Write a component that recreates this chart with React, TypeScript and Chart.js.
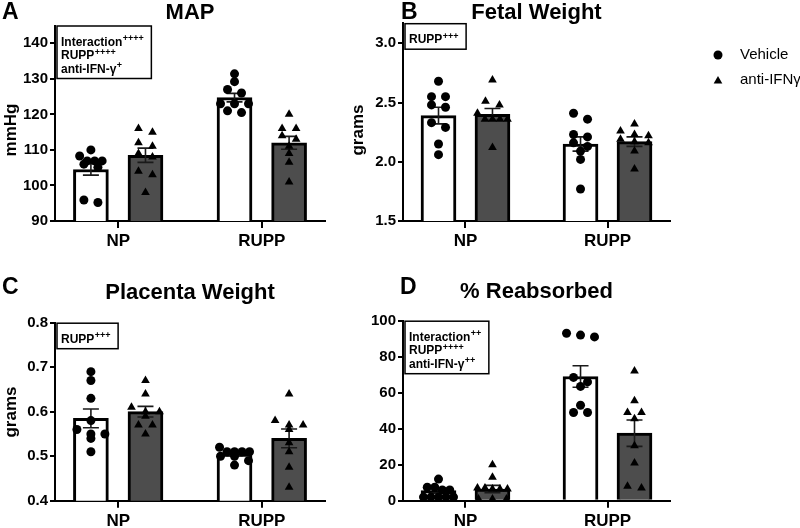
import React, { useEffect, useRef } from 'react';
import { Chart, registerables } from 'chart.js';

Chart.register(...registerables);

const FONT = "'Liberation Sans', Arial, Helvetica, sans-serif";

const categories = ['NP', 'RUPP'];
const seriesNames = ['Vehicle', 'anti-IFNγ'];

// Panel A – MAP (mmHg)
const mapVehicleNP = [110, 108.3, 106.9, 106.9, 106.9, 106.0, 105.1, 95.9, 95.2];
const mapVehicleRUPP = [131.4, 129.2, 127, 126, 123, 123, 123, 121, 120.5];
const mapAntiNP = [116, 115, 112, 111, 109, 108, 104, 103, 98];
const mapAntiRUPP = [120, 116, 116, 114, 113, 111, 109, 106.5, 101];
const mapVehicleMean = [104.5, 124.7];
const mapVehicleSem = [1.6, 1.2];
const mapAntiMean = [108.5, 112.0];
const mapAntiSem = [2.0, 1.8];
const mapTicks = [90, 100, 110, 120, 130, 140];

// Panel B – Fetal Weight (grams)
const fwVehicleNP = [2.68, 2.55, 2.55, 2.48, 2.46, 2.33, 2.29, 2.15, 2.06];
const fwVehicleRUPP = [2.41, 2.36, 2.23, 2.21, 2.16, 2.13, 2.09, 2.02, 1.77];
const fwAntiNP = [2.69, 2.51, 2.48, 2.41, 2.36, 2.36, 2.36, 2.36, 2.12];
const fwAntiRUPP = [2.32, 2.26, 2.23, 2.22, 2.19, 2.17, 2.16, 2.09, 1.94];
const fwVehicleMean = [2.39, 2.15];
const fwVehicleSem = [0.07, 0.06];
const fwAntiMean = [2.40, 2.17];
const fwAntiSem = [0.05, 0.04];
const fwTicks = [1.5, 2.0, 2.5, 3.0];

// Panel C – Placenta Weight (grams)
const pwVehicleNP = [0.69, 0.67, 0.63, 0.58, 0.56, 0.55, 0.55, 0.54, 0.51];
const pwVehicleRUPP = [0.52, 0.51, 0.51, 0.51, 0.51, 0.50, 0.50, 0.49, 0.48];
const pwAntiNP = [0.67, 0.64, 0.61, 0.60, 0.60, 0.59, 0.57, 0.57, 0.55];
const pwAntiRUPP = [0.64, 0.58, 0.57, 0.57, 0.56, 0.53, 0.51, 0.475, 0.43];
const pwVehicleMean = [0.585, 0.505];
const pwVehicleSem = [0.021, 0.004];
const pwAntiMean = [0.600, 0.540];
const pwAntiSem = [0.012, 0.021];
const pwTicks = [0.4, 0.5, 0.6, 0.7, 0.8];

// Panel D – % Reabsorbed
const reVehicleNP = [12, 7.5, 7.5, 6, 6, 2, 2, 2, 2, 2];
const reVehicleRUPP = [93, 92, 91, 68.5, 66, 63.5, 53, 49, 49];
const reAntiNP = [20, 13, 7, 7, 6.5, 6.5, 6.5, 1, 1, 1];
const reAntiRUPP = [72, 55.5, 49, 49, 45.5, 30.5, 21, 8, 7];
const reVehicleMean = [5.6, 69.0];
const reVehicleSem = [1.4, 6.0];
const reAntiMean = [6.5, 37.5];
const reAntiSem = [2.0, 7.3];
const reTicks = [0, 20, 40, 60, 80, 100];

type Panel = {
  letter: string;
  title: string;
  yTitle: string;
  min: number;
  max: number;
  ticks: number[];
  decimals: number;
  veh: number[][];
  anti: number[][];
  vehMean: number[];
  vehSem: number[];
  antiMean: number[];
  antiSem: number[];
  notes: [string, string][];
  legend: boolean;
  canvas: { x: number; y: number; w: number; h: number };
  area: { left: number; right: number; top: number; bottom: number };
  letterPos: [number, number];
  titleY: number;
  yTitlePos: [number, number];
};

const PANELS: Panel[] = [
  {
    letter: 'A', title: 'MAP', yTitle: 'mmHg', min: 90, max: 145, ticks: mapTicks, decimals: 0,
    veh: [mapVehicleNP, mapVehicleRUPP], anti: [mapAntiNP, mapAntiRUPP],
    vehMean: mapVehicleMean, vehSem: mapVehicleSem, antiMean: mapAntiMean, antiSem: mapAntiSem,
    notes: [['Interaction', '++++'], ['RUPP', '++++'], ['anti-IFN-γ', '+']],
    legend: false,
    canvas: { x: 0, y: 0, w: 340, h: 265 },
    area: { left: 55, right: 325, top: 25.5, bottom: 221 },
    letterPos: [2, 19], titleY: 18.5, yTitlePos: [11, 130],
  },
  {
    letter: 'B', title: 'Fetal Weight', yTitle: 'grams', min: 1.5, max: 3.17, ticks: fwTicks, decimals: 1,
    veh: [fwVehicleNP, fwVehicleRUPP], anti: [fwAntiNP, fwAntiRUPP],
    vehMean: fwVehicleMean, vehSem: fwVehicleSem, antiMean: fwAntiMean, antiSem: fwAntiSem,
    notes: [['RUPP', '+++']],
    legend: true,
    canvas: { x: 340, y: 0, w: 460, h: 265 },
    area: { left: 63, right: 330, top: 23.2, bottom: 221 },
    letterPos: [61, 19], titleY: 18.5, yTitlePos: [18, 130],
  },
  {
    letter: 'C', title: 'Placenta Weight', yTitle: 'grams', min: 0.4, max: 0.8, ticks: pwTicks, decimals: 1,
    veh: [pwVehicleNP, pwVehicleRUPP], anti: [pwAntiNP, pwAntiRUPP],
    vehMean: pwVehicleMean, vehSem: pwVehicleSem, antiMean: pwAntiMean, antiSem: pwAntiSem,
    notes: [['RUPP', '+++']],
    legend: false,
    canvas: { x: 0, y: 265, w: 340, h: 280 },
    area: { left: 55, right: 325, top: 57.7, bottom: 235.7 },
    letterPos: [2, 28.5], titleY: 34, yTitlePos: [11, 147],
  },
  {
    letter: 'D', title: '% Reabsorbed', yTitle: '', min: 0, max: 100, ticks: reTicks, decimals: 0,
    veh: [reVehicleNP, reVehicleRUPP], anti: [reAntiNP, reAntiRUPP],
    vehMean: reVehicleMean, vehSem: reVehicleSem, antiMean: reAntiMean, antiSem: reAntiSem,
    notes: [['Interaction', '++'], ['RUPP', '++++'], ['anti-IFN-γ', '++']],
    legend: false,
    canvas: { x: 340, y: 265, w: 460, h: 280 },
    area: { left: 63, right: 330, top: 55.7, bottom: 235.7 },
    letterPos: [60, 28.5], titleY: 33, yTitlePos: [0, 0],
  },
];

const X_MIN = -0.44;
const X_MAX = 1.44;
const BAR_OFFSET = 0.19;
const ROW_PX = 6;
const CIRCLE_R = 4.5;
const TRIANGLE_R = 5;

function swarm(values: number[], center: number, pxPerX: number, pxPerY: number) {
  const sorted = [...values].sort((a, b) => b - a);
  const rows: number[][] = [];
  let cur: number[] = [];
  let anchor = 0;
  for (const v of sorted) {
    if (cur.length && (anchor - v) * pxPerY < ROW_PX) cur.push(v);
    else {
      if (cur.length) rows.push(cur);
      cur = [v];
      anchor = v;
    }
  }
  if (cur.length) rows.push(cur);
  const pts: { x: number; y: number }[] = [];
  rows.forEach((r) => {
    const n = r.length;
    const sp = n <= 3 ? 14 : 7.5;
    r.forEach((v, k) => pts.push({ x: center + ((k - (n - 1) / 2) * sp) / pxPerX, y: v }));
  });
  return pts;
}

function drawMarker(ctx: CanvasRenderingContext2D, style: string, x: number, y: number, r: number) {
  ctx.beginPath();
  if (style === 'circle') {
    ctx.arc(x, y, r, 0, Math.PI * 2);
  } else {
    let rad = 0;
    ctx.moveTo(x + Math.sin(rad) * r, y - Math.cos(rad) * r);
    rad += (Math.PI * 2) / 3;
    ctx.lineTo(x + Math.sin(rad) * r, y - Math.cos(rad) * r);
    rad += (Math.PI * 2) / 3;
    ctx.lineTo(x + Math.sin(rad) * r, y - Math.cos(rad) * r);
    ctx.closePath();
  }
  ctx.fill();
}

const panelPlugin = {
  id: 'panel',
  afterDatasetDraw(chart: any, args: any) {
    if (args.meta.type !== 'bar') return;
    const ds = chart.data.datasets[args.index];
    const sems: number[] = ds.sem;
    const ctx: CanvasRenderingContext2D = chart.ctx;
    const xs = chart.scales.x;
    const ys = chart.scales.y;
    ctx.save();
    ctx.strokeStyle = '#1a1a1a';
    ctx.lineWidth = 1.6;
    ds.data.forEach((d: any, i: number) => {
      const px = xs.getPixelForValue(d.x);
      const top = ys.getPixelForValue(d.y + sems[i]);
      const bot = ys.getPixelForValue(d.y - sems[i]);
      const cw = 8;
      ctx.beginPath();
      ctx.moveTo(px, top);
      ctx.lineTo(px, bot);
      ctx.moveTo(px - cw, top);
      ctx.lineTo(px + cw, top);
      ctx.moveTo(px - cw, bot);
      ctx.lineTo(px + cw, bot);
      ctx.stroke();
    });
    ctx.restore();
  },
  afterDraw(chart: any, _args: any, opts: any) {
    const p = PANELS[opts.idx];
    const ctx: CanvasRenderingContext2D = chart.ctx;
    const ca = chart.chartArea;
    ctx.save();
    ctx.fillStyle = '#000';
    ctx.textBaseline = 'alphabetic';
    ctx.textAlign = 'left';
    ctx.font = `bold 23px ${FONT}`;
    ctx.fillText(p.letter, p.letterPos[0], p.letterPos[1]);
    ctx.font = `bold 22px ${FONT}`;
    ctx.textAlign = 'center';
    ctx.fillText(p.title, (ca.left + ca.right) / 2, p.titleY);
    if (p.yTitle) {
      ctx.save();
      ctx.translate(p.yTitlePos[0], p.yTitlePos[1]);
      ctx.rotate(-Math.PI / 2);
      ctx.font = `bold 17px ${FONT}`;
      ctx.textAlign = 'center';
      ctx.textBaseline = 'middle';
      ctx.fillText(p.yTitle, 0, 0);
      ctx.restore();
    }
    // annotation box
    const mainFont = `bold 12px ${FONT}`;
    const supFont = `bold 9px ${FONT}`;
    let maxW = 0;
    const widths = p.notes.map(([m, s]) => {
      ctx.font = mainFont;
      const wm = ctx.measureText(m).width;
      ctx.font = supFont;
      const ws = ctx.measureText(s).width;
      maxW = Math.max(maxW, wm + ws);
      return wm;
    });
    const bx = ca.left + 2;
    const by = ca.top + 0.5;
    const bw = maxW + 12;
    const bh = p.notes.length * 13.5 + 12;
    ctx.fillStyle = '#fff';
    ctx.fillRect(bx, by, bw, bh);
    ctx.strokeStyle = '#000';
    ctx.lineWidth = 1.5;
    ctx.strokeRect(bx, by, bw, bh);
    ctx.fillStyle = '#000';
    ctx.textAlign = 'left';
    ctx.textBaseline = 'alphabetic';
    p.notes.forEach(([m, s], i) => {
      const base = by + 19.5 + i * 13.5;
      ctx.font = mainFont;
      ctx.fillText(m, bx + 4, base);
      ctx.font = supFont;
      ctx.fillText(s, bx + 4 + widths[i] + 0.5, base - 4.5);
    });
    // legend
    if (p.legend) {
      const lx = 378;
      const items = [
        { y: 55, style: 'circle', r: CIRCLE_R },
        { y: 80, style: 'triangle', r: TRIANGLE_R },
      ];
      items.forEach((it, i) => {
        ctx.fillStyle = '#000';
        drawMarker(ctx, it.style, lx, it.style === 'triangle' ? it.y + 1 : it.y, it.r);
        ctx.font = `15px ${FONT}`;
        ctx.textBaseline = 'middle';
        ctx.textAlign = 'left';
        ctx.fillText(seriesNames[i], 400, it.y);
      });
    }
    ctx.restore();
  },
};

function buildConfig(p: Panel, idx: number): any {
  const pxPerX = (p.area.right - p.area.left) / (X_MAX - X_MIN);
  const pxPerY = (p.area.bottom - p.area.top) / (p.max - p.min);
  const barData = (means: number[], sign: number) =>
    means.map((m, i) => ({ x: i + sign * BAR_OFFSET, y: m }));
  const pts = (groups: number[][], sign: number) =>
    groups.flatMap((g, i) => swarm(g, i + sign * BAR_OFFSET, pxPerX, pxPerY));
  const tickFont = { family: FONT, size: 15, weight: 'bold' as const };
  return {
    type: 'bar',
    data: {
      datasets: [
        {
          type: 'bar', label: seriesNames[0], data: barData(p.vehMean, -1), sem: p.vehSem,
          backgroundColor: '#ffffff', borderColor: '#000000', borderWidth: 3,
          barThickness: 35, grouped: false, order: 3,
        },
        {
          type: 'bar', label: seriesNames[1], data: barData(p.antiMean, 1), sem: p.antiSem,
          backgroundColor: '#4d4d4d', borderColor: '#000000', borderWidth: 3,
          barThickness: 35, grouped: false, order: 2,
        },
        {
          type: 'scatter', label: seriesNames[0], data: pts(p.veh, -1),
          pointStyle: 'circle', pointRadius: CIRCLE_R, backgroundColor: '#000', borderColor: '#000',
          borderWidth: 0, clip: false, order: 1,
        },
        {
          type: 'scatter', label: seriesNames[1], data: pts(p.anti, 1),
          pointStyle: 'triangle', pointRadius: TRIANGLE_R, backgroundColor: '#000', borderColor: '#000',
          borderWidth: 0, clip: false, order: 0,
        },
      ],
    },
    options: {
      responsive: false,
      animation: false,
      devicePixelRatio: 1,
      events: [],
      layout: {
        padding: { left: 0, right: p.canvas.w - p.area.right, top: p.area.top, bottom: 0 },
      },
      plugins: {
        legend: { display: false },
        tooltip: { enabled: false },
        title: { display: false },
        panel: { idx },
      },
      scales: {
        x: {
          type: 'linear',
          min: X_MIN,
          max: X_MAX,
          offset: false,
          afterBuildTicks: (s: any) => {
            s.ticks = categories.map((_, i) => ({ value: i }));
          },
          afterFit: (s: any) => {
            s.height = p.canvas.h - p.area.bottom;
          },
          ticks: {
            callback: (v: number) => categories[v] ?? '',
            font: { family: FONT, size: 17, weight: 'bold' },
            color: '#000',
            padding: 3,
            autoSkip: false,
            maxRotation: 0,
          },
          grid: {
            offset: false, drawOnChartArea: false, drawTicks: true, tickLength: 7,
            color: '#000', lineWidth: 2,
          },
          border: { color: '#000', width: 2 },
        },
        y: {
          type: 'linear',
          min: p.min,
          max: p.max,
          afterBuildTicks: (s: any) => {
            s.ticks = p.ticks.map((v) => ({ value: v }));
          },
          afterFit: (s: any) => {
            s.width = p.area.left;
          },
          ticks: {
            callback: (v: number) => v.toFixed(p.decimals),
            font: tickFont,
            color: '#000',
            padding: 2,
          },
          grid: { drawOnChartArea: false, drawTicks: true, tickLength: 5, color: '#000', lineWidth: 2 },
          border: { color: '#000', width: 2 },
        },
      },
    },
    plugins: [panelPlugin],
  };
}

export default function App() {
  const refs = useRef<(HTMLCanvasElement | null)[]>([]);
  useEffect(() => {
    const charts = PANELS.map((p, i) => new Chart(refs.current[i] as HTMLCanvasElement, buildConfig(p, i)));
    return () => {
      charts.forEach((c) => c.destroy());
    };
  }, []);
  return (
    <div
      style={{
        position: 'absolute', left: 0, top: 0, width: 800, height: 528,
        overflow: 'hidden', background: '#ffffff',
      }}
    >
      {PANELS.map((p, i) => (
        <canvas
          key={i}
          ref={(el) => {
            refs.current[i] = el;
          }}
          width={p.canvas.w}
          height={p.canvas.h}
          style={{ position: 'absolute', left: p.canvas.x, top: p.canvas.y, width: p.canvas.w, height: p.canvas.h }}
        />
      ))}
    </div>
  );
}
